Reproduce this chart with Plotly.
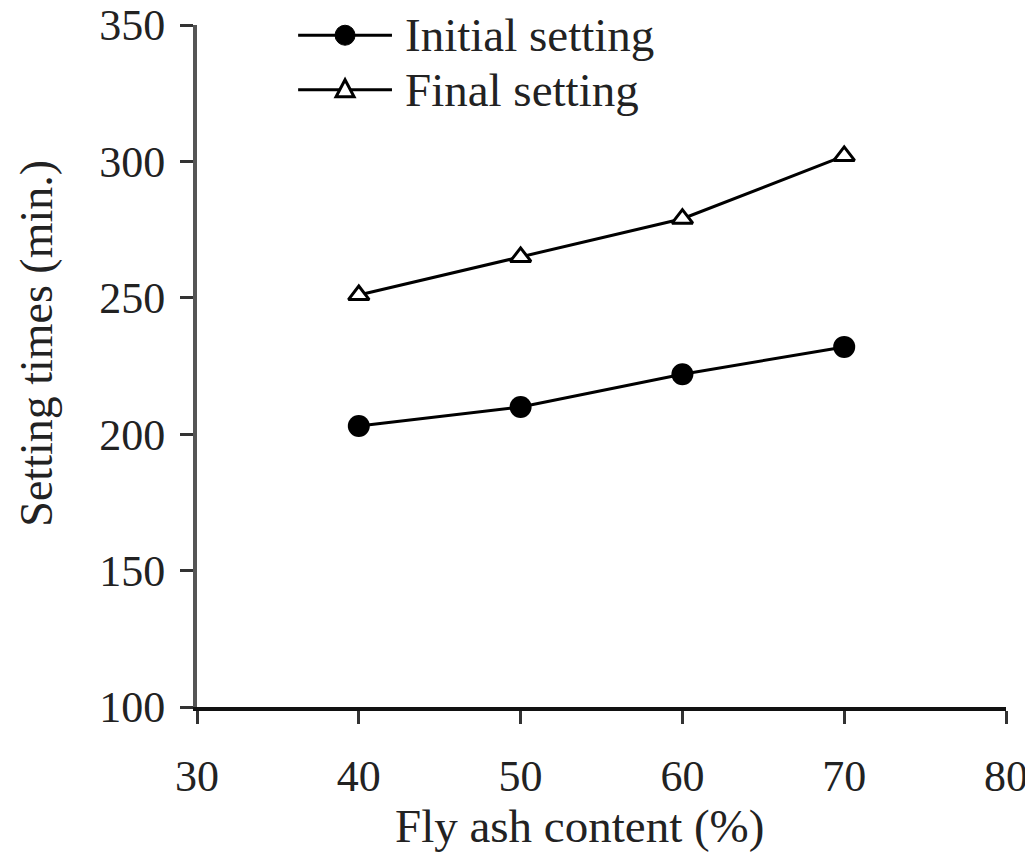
import plotly.graph_objects as go

# Fly ash content (%)
fly_ash = [40, 50, 60, 70]
initial_setting = [203, 210, 222, 232]
final_setting = [251, 265, 279, 302]
series_names = ["Initial setting", "Final setting"]

x_ticks = [30, 40, 50, 60, 70, 80]
y_ticks = [100, 150, 200, 250, 300, 350]

FONT = "Liberation Serif, Times New Roman, serif"

fig = go.Figure()

fig.add_trace(go.Scatter(
    x=fly_ash, y=initial_setting,
    mode="lines+markers",
    name=series_names[0],
    line=dict(color="black", width=3),
    marker=dict(symbol="circle", size=22, color="black"),
))

fig.add_trace(go.Scatter(
    x=fly_ash, y=final_setting,
    mode="lines+markers",
    name=series_names[1],
    line=dict(color="black", width=3),
    marker=dict(symbol="triangle-up", size=18, color="white",
                line=dict(color="black", width=3)),
))

# hand-drawn legend (long sample lines like the original)
leg_x0, leg_x1, leg_mid, leg_txt = 0.125, 0.241, 0.183, 0.255
leg_rows = [0.985, 0.905]
shapes = []
annotations = []
for i, (name, yy) in enumerate(zip(series_names, leg_rows)):
    shapes.append(dict(type="line", xref="paper", yref="paper",
                       x0=leg_x0, x1=leg_x1, y0=yy, y1=yy,
                       line=dict(color="black", width=3)))
    if i == 0:
        shapes.append(dict(type="circle", xref="paper", yref="paper",
                           xsizemode="pixel", ysizemode="pixel",
                           xanchor=leg_mid, yanchor=yy,
                           x0=-10, x1=10, y0=-10, y1=10,
                           fillcolor="black", line=dict(color="black", width=1)))
    else:
        shapes.append(dict(type="path", xref="paper", yref="paper",
                           xsizemode="pixel", ysizemode="pixel",
                           xanchor=leg_mid, yanchor=yy,
                           path="M-9,-7 L9,-7 L0,10 Z",
                           fillcolor="white", line=dict(color="black", width=3)))
    annotations.append(dict(text=name, xref="paper", yref="paper",
                            x=leg_txt, y=yy, xanchor="left", yanchor="middle",
                            showarrow=False, font=dict(size=47, color="#222")))

# axis titles as annotations so they sit where the original has them
annotations.append(dict(text="Fly ash content (%)", xref="paper", yref="paper",
                        x=0.473, y=-0.175, xanchor="center", yanchor="middle",
                        showarrow=False, font=dict(size=47, color="#222")))
annotations.append(dict(text="Setting times (min.)", xref="paper", yref="paper",
                        x=-0.198, y=0.534, xanchor="center", yanchor="middle",
                        textangle=-90, showarrow=False,
                        font=dict(size=46, color="#222")))

# the page body adds an 8px offset, so margins are shifted to compensate
fig.update_layout(
    width=1033, height=853,
    margin=dict(l=189, r=35, t=17, b=154),
    paper_bgcolor="white", plot_bgcolor="white",
    font=dict(family=FONT, size=44, color="#222"),
    showlegend=False,
    shapes=shapes,
    annotations=annotations,
)

fig.update_xaxes(
    range=[30, 80], tickvals=x_ticks, automargin=False,
    showgrid=False, zeroline=False,
    showline=True, linecolor="#111", linewidth=4,
    ticks="outside", ticklen=13, tickwidth=3, tickcolor="#333",
    ticklabelstandoff=14, ticklabeloverflow="allow",
)

fig.update_yaxes(
    range=[100, 350], tickvals=y_ticks, automargin=False,
    showgrid=False, zeroline=False,
    showline=True, linecolor="#555", linewidth=4,
    ticks="outside", ticklen=13, tickwidth=3, tickcolor="#333",
    ticklabelstandoff=6, ticklabeloverflow="allow",
)

fig.write_html("out.html")
